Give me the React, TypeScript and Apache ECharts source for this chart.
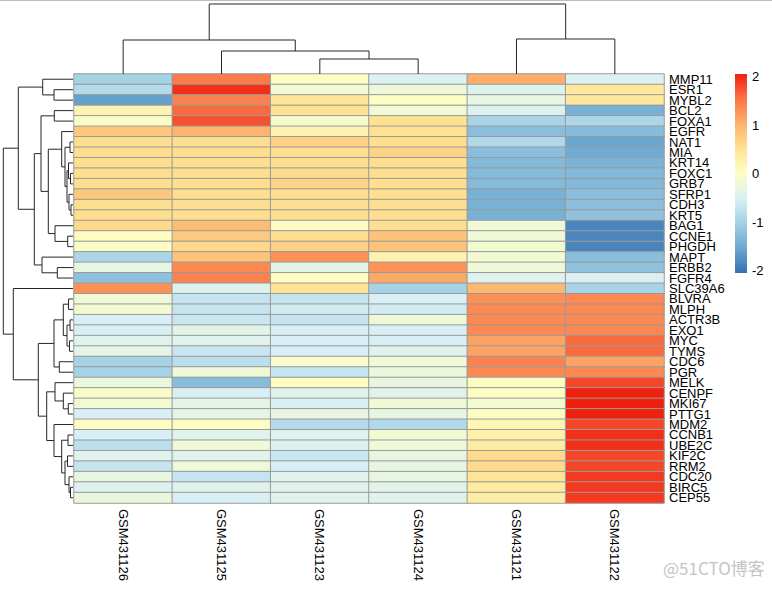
import React, { useEffect, useRef } from "react";
import * as echarts from "echarts";

const samples = ["GSM431126", "GSM431125", "GSM431123", "GSM431124", "GSM431121", "GSM431122"];

const genes = [
  "MMP11", "ESR1", "MYBL2", "BCL2", "FOXA1", "EGFR", "NAT1", "MIA", "KRT14", "FOXC1",
  "GRB7", "SFRP1", "CDH3", "KRT5", "BAG1", "CCNE1", "PHGDH", "MAPT", "ERBB2", "FGFR4",
  "SLC39A6", "BLVRA", "MLPH", "ACTR3B", "EXO1", "MYC", "TYMS", "CDC6", "PGR", "MELK",
  "CENPF", "MKI67", "PTTG1", "MDM2", "CCNB1", "UBE2C", "KIF2C", "RRM2", "CDC20", "BIRC5", "CEP55",
];

// scaled expression, one row per gene, columns in the order of `samples`
const expr: number[][] = [
  [-1.0, 1.48, 0.03, -0.48, 1.05, -0.46],
  [-0.85, 1.95, -0.18, -0.22, -0.45, 0.42],
  [-1.6, 1.42, 0.5, 0.0, -0.32, 0.42],
  [0.2, 1.6, 0.52, -0.18, -0.45, -1.42],
  [-0.03, 1.75, -0.1, 0.52, -0.97, -0.93],
  [0.8, 1.0, 0.22, 0.52, -1.25, -1.28],
  [0.55, 0.55, 0.7, 0.55, -0.9, -1.55],
  [0.55, 0.55, 0.55, 0.68, -1.25, -1.5],
  [0.57, 0.57, 0.57, 0.57, -1.3, -1.4],
  [0.55, 0.57, 0.6, 0.57, -1.3, -1.33],
  [0.55, 0.57, 0.68, 0.57, -1.3, -1.33],
  [0.8, 0.57, 0.57, 0.57, -1.42, -1.25],
  [0.55, 0.57, 0.57, 0.57, -1.42, -1.25],
  [0.57, 0.57, 0.55, 0.55, -1.42, -1.2],
  [0.62, 0.92, 0.02, 0.55, -0.2, -1.85],
  [0.02, 0.78, 0.55, 0.85, -0.2, -1.85],
  [-0.02, 0.62, 0.7, 0.85, -0.15, -1.85],
  [-0.95, 0.85, 1.3, 0.22, -0.15, -1.25],
  [-0.32, 1.37, -0.38, 1.28, -0.2, -1.2],
  [-1.22, 1.42, 0.02, 1.1, -0.43, -0.5],
  [1.3, -0.45, 0.5, -1.0, 0.95, -0.97],
  [-0.2, -0.7, -0.7, -0.52, 1.3, 1.37],
  [-0.15, -0.7, -0.6, -0.6, 1.37, 1.37],
  [-0.52, -0.67, -0.7, -0.2, 1.37, 1.37],
  [-0.52, -0.38, -0.52, -0.52, 1.37, 1.38],
  [-0.42, -0.42, -0.52, -0.52, 1.15, 1.6],
  [-0.35, -0.67, -0.52, -0.42, 1.15, 1.6],
  [-1.0, -0.8, -0.07, -0.2, 1.42, 1.15],
  [-1.0, -0.2, -0.7, -0.25, 1.37, 1.37],
  [-0.25, -1.28, 0.03, -0.28, 0.03, 1.82],
  [-0.07, -0.52, -0.42, -0.42, 0.03, 2.05],
  [-0.15, -0.35, -0.52, -0.18, -0.15, 2.1],
  [-0.52, -0.35, -0.3, -0.3, 0.03, 2.1],
  [0.03, 0.03, -0.85, -0.88, 0.15, 1.82],
  [-0.52, -0.42, -0.42, -0.15, 0.28, 1.95],
  [-0.78, -0.2, -0.45, -0.2, 0.35, 1.95],
  [-0.42, -0.42, -0.67, -0.3, 0.6, 1.82],
  [-0.7, -0.2, -0.52, -0.3, 0.6, 1.82],
  [-0.3, -0.7, -0.42, -0.3, 0.5, 1.9],
  [-0.45, -0.42, -0.42, -0.38, 0.38, 1.9],
  [-0.25, -0.52, -0.42, -0.42, 0.33, 1.9],
];

// dendrograms: [mergeHeight, left, right]; leaves are indices
type Tree = number | [number, Tree, Tree];

const colTree: Tree = [70, [34, 0, [23, 1, [15, 2, 3]]], [35, 4, 5]];

const rowTree: Tree = [69.7,
  [54.7,
    [30.3, 0, [19, 1, 2]],
    [38.7,
      [32,
        [18.7, 3, 4],
        [24.7,
          [11.3, 5, [8, [3, 6, 7], [6, [4.5, 8, [2.5, 9, 10]], [4, 11, [2, 12, 13]]]]],
          [18, 14, [5.3, 15, 16]]]],
      [31, 17, [15.7, 18, 19]]]],
  [59.7,
    20,
    [34.7,
      [19,
        [9.7, [4.5, 21, 22], [6, [3, 23, 24], [3.5, 25, 26]]],
        [13.7, 27, 28]],
      [26.3,
        [18, 29, [9.7, 30, [4.7, 31, 32]]],
        [19, 33, [11.3, [5, 34, 35], [8, [5.5, 36, 37], [4, 38, [2.5, 39, 40]]]]]]]]];

const legendTicks = [-2, -1, 0, 1, 2];
const scaleMin = -2.05;
const scaleMax = 2.05;
const palette = ["#3571b1", "#6ba8d1", "#a3d0e5", "#d9f0f5", "#fdfec4", "#fee393", "#fdb26c", "#fb7446", "#f0200f"];

function buildSegments(tree: Tree, out: number[][]): { pos: number; h: number } {
  if (typeof tree === "number") return { pos: tree, h: 0 };
  const [h, a, b] = tree;
  const l = buildSegments(a, out);
  const r = buildSegments(b, out);
  out.push([l.pos, l.h, r.pos, r.h, h]);
  return { pos: (l.pos + r.pos) / 2, h };
}

export default function App() {
  const ref = useRef<HTMLDivElement>(null);
  useEffect(() => {
    if (!ref.current) return;
    const chart = echarts.init(ref.current, null, { renderer: "svg" });

    const heat: number[][] = [];
    expr.forEach((row, r) => row.forEach((v, c) => heat.push([c, r, v])));

    const colSegs: number[][] = [];
    buildSegments(colTree, colSegs);
    const rowSegs: number[][] = [];
    buildSegments(rowTree, rowSegs);

    const lineStyle = { stroke: "#262626", lineWidth: 1, fill: "none" };
    const font = "'Liberation Sans', Arial, Helvetica, sans-serif";

    const stops = palette.map((c, i) => ({ offset: 1 - i / (palette.length - 1), color: c })).reverse();

    const hidden = { show: false };

    chart.setOption({
      animation: false,
      textStyle: { fontFamily: font },
      grid: [
        { left: 74, top: 74, width: 590, height: 429 },
        { left: 74, top: 4, width: 590, height: 70 },
        { left: 3, top: 74, width: 70, height: 429 },
        { left: 735, top: 76.5, width: 12, height: 194 },
      ],
      xAxis: [
        {
          type: "category", data: samples, gridIndex: 0, position: "bottom",
          axisLine: hidden, axisTick: hidden, splitLine: hidden,
          axisLabel: { rotate: -90, margin: 6, fontSize: 13, color: "#000", interval: 0, fontFamily: font },
        },
        { type: "value", gridIndex: 1, min: -0.5, max: 5.5, show: false },
        { type: "value", gridIndex: 2, min: 0, max: 70, inverse: true, show: false },
        { type: "value", gridIndex: 3, min: 0, max: 1, show: false },
      ],
      yAxis: [
        {
          type: "category", data: genes, gridIndex: 0, inverse: true, position: "right",
          axisLine: hidden, axisTick: hidden, splitLine: hidden,
          axisLabel: { margin: 5, fontSize: 13, color: "#000", interval: 0, fontFamily: font },
        },
        { type: "value", gridIndex: 1, min: 0, max: 70, show: false },
        { type: "value", gridIndex: 2, min: -0.5, max: 40.5, inverse: true, show: false },
        {
          type: "value", gridIndex: 3, min: legendTicks[0], max: legendTicks[legendTicks.length - 1], interval: 1,
          position: "right",
          axisLine: hidden, axisTick: hidden, splitLine: hidden,
          axisLabel: { margin: 5, fontSize: 13, color: "#000", fontFamily: font },
        },
      ],
      visualMap: {
        type: "continuous", min: scaleMin, max: scaleMax, show: false, seriesIndex: 0, dimension: 2,
        inRange: { color: palette },
      },
      series: [
        {
          type: "heatmap", xAxisIndex: 0, yAxisIndex: 0, data: heat,
          itemStyle: { borderColor: "#9a9a9a", borderWidth: 1 },
          emphasis: { disabled: true },
        },
        {
          type: "custom", xAxisIndex: 1, yAxisIndex: 1, data: colSegs, clip: false, silent: true,
          renderItem: (_p: any, api: any) => {
            const p1 = api.value(0), h1 = api.value(1), p2 = api.value(2), h2 = api.value(3), h = api.value(4);
            return {
              type: "polyline",
              shape: { points: [api.coord([p1, h1]), api.coord([p1, h]), api.coord([p2, h]), api.coord([p2, h2])] },
              style: lineStyle,
            };
          },
        },
        {
          type: "custom", xAxisIndex: 2, yAxisIndex: 2, data: rowSegs, clip: false, silent: true,
          renderItem: (_p: any, api: any) => {
            const p1 = api.value(0), h1 = api.value(1), p2 = api.value(2), h2 = api.value(3), h = api.value(4);
            return {
              type: "polyline",
              shape: { points: [api.coord([h1, p1]), api.coord([h, p1]), api.coord([h, p2]), api.coord([h2, p2])] },
              style: lineStyle,
            };
          },
        },
        {
          type: "custom", xAxisIndex: 3, yAxisIndex: 3, data: [[0, 0]], clip: false, silent: true,
          renderItem: (_p: any, api: any) => {
            const a = api.coord([0, scaleMax]);
            const b = api.coord([1, scaleMin]);
            return {
              type: "rect",
              shape: { x: a[0], y: a[1], width: b[0] - a[0], height: b[1] - a[1] },
              style: { fill: new echarts.graphic.LinearGradient(0, 0, 0, 1, stops) },
            };
          },
        },
      ],
      graphic: [
        { type: "line", shape: { x1: 0, y1: 0.5, x2: 772, y2: 0.5 }, style: { stroke: "#bdbdbd", lineWidth: 1 } },
        {
          type: "text", left: 663, top: 559,
          style: { text: "@51CTO博客", fill: "#c4c4c4", fontSize: 17, fontFamily: "'Noto Sans CJK SC', sans-serif" },
        },
      ],
    });
    return () => chart.dispose();
  }, []);
  return <div ref={ref} style={{ position: "absolute", left: 0, top: 0, width: 772, height: 589 }} />;
}
